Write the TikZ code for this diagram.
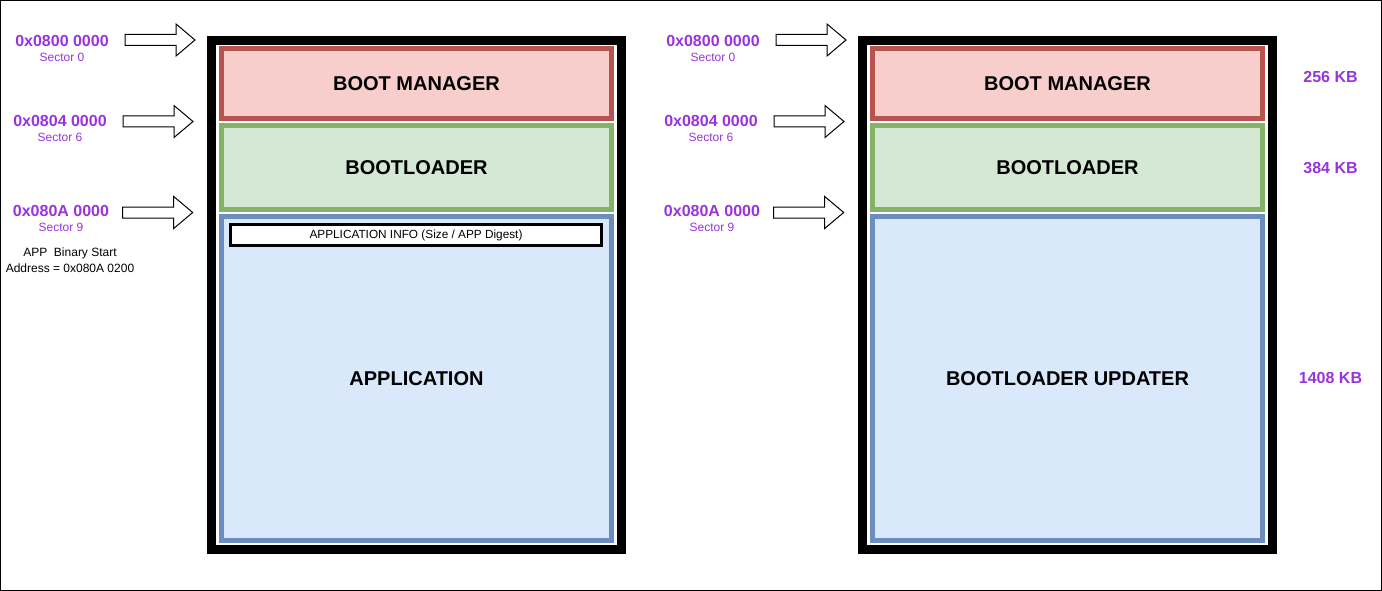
\documentclass[tikz,border=0pt]{standalone}
\usepackage{fontspec}
\setmainfont{Liberation Sans}
\definecolor{addrpurple}{RGB}{153,51,220}
\definecolor{mgrfill}{RGB}{248,206,204}
\definecolor{mgrline}{RGB}{184,84,80}
\definecolor{blfill}{RGB}{213,232,212}
\definecolor{blline}{RGB}{130,179,102}
\definecolor{appfill}{RGB}{218,232,252}
\definecolor{appline}{RGB}{108,142,191}
\usetikzlibrary{positioning}

\newcommand{\fs}[1]{\fontsize{#1}{#1}\selectfont}

\begin{document}
\begin{tikzpicture}[x=1pt,y=-1pt,
        frame/.style={draw=black,line width=9pt,minimum width=410pt,
                      minimum height=509pt,inner sep=0pt},
        region/.style={line width=5pt,minimum width=390pt,inner sep=0pt,
                       font=\fs{20}\bfseries},
        infobox/.style={draw=black,fill=white,line width=3pt,minimum width=371pt,
                        minimum height=21pt,inner sep=0pt,font=\fs{11.8}},
        addr/.style={text=addrpurple,font=\fs{16}\bfseries,inner sep=0pt},
        sector/.style={text=addrpurple,font=\fs{12},inner sep=0pt},
        size/.style={text=addrpurple,font=\fs{16}\bfseries,inner sep=0pt},
        blockarrow/.pic={\draw[line width=1pt,fill=white]
            (0,-5.5) -- (51,-5.5) -- (51,-16) -- (70,0) -- (51,16)
            -- (51,5.5) -- (0,5.5) -- cycle;}]
  \useasboundingbox (0,0) rectangle (1382,591);
  \draw[line width=1pt] (0.5,0.5) rectangle (1381.5,590.5);

  % left: flash with application
  \node[frame] (frameL) at (416.5,295) {};
  \node[region,draw=mgrline,fill=mgrfill,minimum height=70pt] (mgrL)
    at (416.5,83.5) {BOOT MANAGER};
  \node[region,draw=blline,fill=blfill,minimum height=84pt] (blL)
    at (416.5,167.5) {BOOTLOADER};
  \node[region,draw=appline,fill=appfill,minimum height=324pt] (appL)
    at (416.5,378.5) {APPLICATION};
  \node[infobox] (infoL) at (416,235) {APPLICATION INFO (Size / APP Digest)};

  \node[addr] (a0L) at (62,41) {0x0800 0000};
  \node[sector] (s0L) at (62,57) {Sector 0};
  \node[addr] (a6L) at (60,121) {0x0804 0000};
  \node[sector] (s6L) at (60,137) {Sector 6};
  \node[addr] (a9L) at (61,211) {0x080A 0000};
  \node[sector] (s9L) at (61,227) {Sector 9};
  \node[font=\fs{12},align=center,inner sep=0pt] (startL) at (70,260)
    {APP\ \ Binary Start\\[4pt]Address = 0x080A 0200};
  \pic at (125,40) {blockarrow};
  \pic at (123,121.5) {blockarrow};
  \pic at (122.7,212.5) {blockarrow};

  % right: flash with bootloader updater
  \node[frame] (frameR) at (1067.5,295) {};
  \node[region,draw=mgrline,fill=mgrfill,minimum height=70pt] (mgrR)
    at (1067.5,83.5) {BOOT MANAGER};
  \node[region,draw=blline,fill=blfill,minimum height=84pt] (blR)
    at (1067.5,167.5) {BOOTLOADER};
  \node[region,draw=appline,fill=appfill,minimum height=324pt] (updR)
    at (1067.5,378.5) {BOOTLOADER UPDATER};

  \node[addr] (a0R) at (713,41) {0x0800 0000};
  \node[sector] (s0R) at (713,57) {Sector 0};
  \node[addr] (a6R) at (711,121) {0x0804 0000};
  \node[sector] (s6R) at (711,137) {Sector 6};
  \node[addr] (a9R) at (712,211) {0x080A 0000};
  \node[sector] (s9R) at (712,227) {Sector 9};
  \pic at (776,40) {blockarrow};
  \pic at (774,121.5) {blockarrow};
  \pic at (773.7,212.5) {blockarrow};

  \node[size] (kbMgr) at (1330.5,77) {256 KB};
  \node[size] (kbBl) at (1330.5,168) {384 KB};
  \node[size] (kbUpd) at (1330.5,378) {1408 KB};
\end{tikzpicture}
\end{document}
